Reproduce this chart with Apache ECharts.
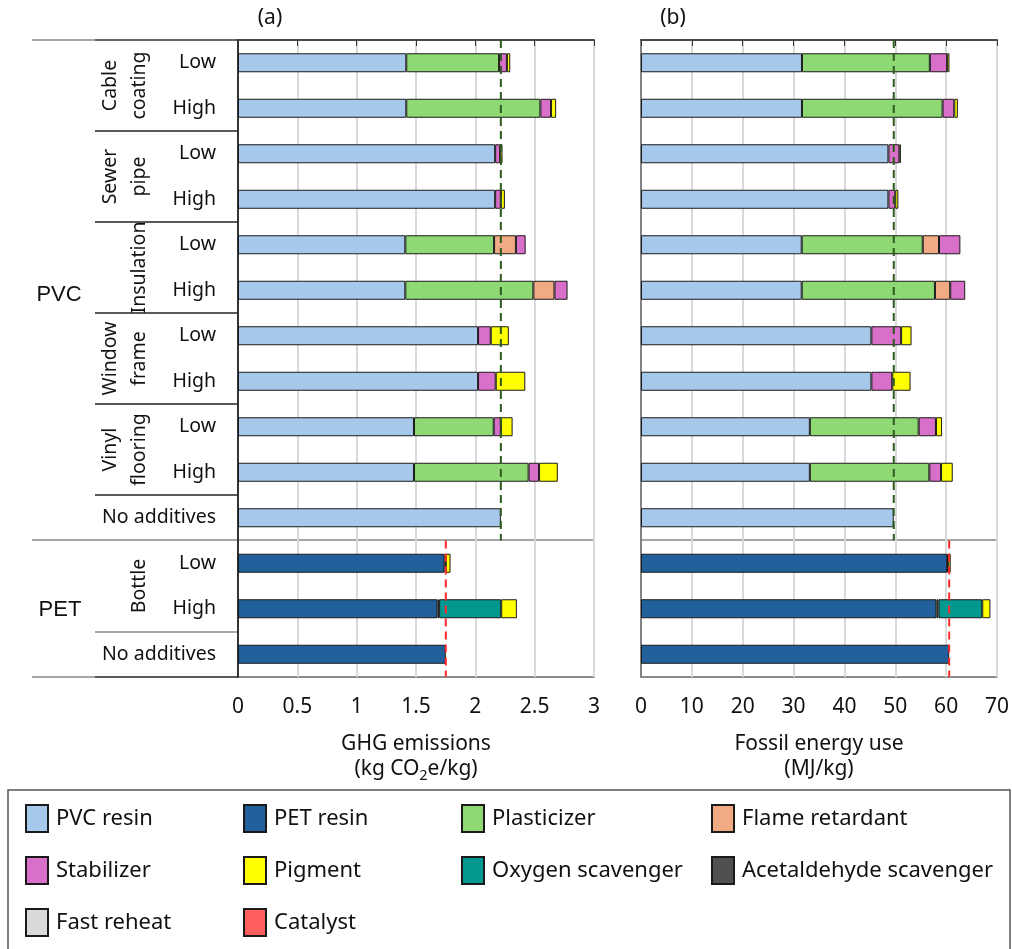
<!DOCTYPE html>
<html><head><meta charset="utf-8">
<script src="https://cdn.jsdelivr.net/npm/echarts@6/dist/echarts.min.js"></script>
<style>html,body{margin:0;padding:0;background:#fff}#c{width:1012px;height:949px}</style>
</head><body><div id="c"></div>
<script>
// ---- categories (top to bottom) ----
const rowLabels = ['Low','High','Low','High','Low','High','Low','High','Low','High','No additives','Low','High','No additives'];
const seriesNames = ['PVC resin','PET resin','Acetaldehyde scavenger','Plasticizer','Flame retardant','Stabilizer','Oxygen scavenger','Pigment','Fast reheat','Catalyst'];
const seriesColors = ['#A6C8EA','#22609B','#505050','#8FD975','#F2AA84','#D86FC8','#00988F','#FFFF00','#D9D9D9','#FF5F5F'];
const _ = null;
// ---- (a) GHG emissions, kg CO2e/kg ----
const ghgPVCresin   = [1.418,1.418,2.167,2.167,1.410,1.410,2.023,2.023,1.483,1.483,2.215,_,_,_];
const ghgPETresin   = [_,_,_,_,_,_,_,_,_,_,_,1.740,1.681,1.751];
const ghgAcetald    = [_,_,_,_,_,_,_,_,_,_,_,0.011,0.014,_];
const ghgPlasticizer= [0.782,1.130,_,_,0.748,1.079,_,_,0.672,0.966,_,_,_,_];
const ghgFlameRet   = [_,_,_,_,0.184,0.178,_,_,_,_,_,_,_,_];
const ghgStabilizer = [0.066,0.090,0.042,0.048,0.082,0.110,0.107,0.149,0.060,0.088,_,_,_,_];
const ghgOxygen     = [_,_,_,_,_,_,_,_,_,_,_,_,0.523,_];
const ghgPigment    = [0.028,0.043,0.020,0.034,_,_,0.152,0.249,0.099,0.158,_,0.040,0.132,_];
const ghgFastReheat = [_,_,_,_,_,_,_,_,_,_,_,_,_,_];
const ghgCatalyst   = [_,_,_,_,_,_,_,_,_,_,_,_,_,_];
const ghgRefPVC = 2.215, ghgRefPET = 1.751;
// ---- (b) Fossil energy use, MJ/kg ----
const fosPVCresin   = [31.65,31.65,48.65,48.65,31.6,31.6,45.3,45.3,33.2,33.2,49.7,_,_,_];
const fosPETresin   = [_,_,_,_,_,_,_,_,_,_,_,60.2,58.1,60.6];
const fosAcetald    = [_,_,_,_,_,_,_,_,_,_,_,0.2,0.4,_];
const fosPlasticizer= [25.15,27.65,_,_,23.8,26.2,_,_,21.4,23.5,_,_,_,_];
const fosFlameRet   = [_,_,_,_,3.2,3.0,_,_,_,_,_,_,_,_];
const fosStabilizer = [3.4,2.3,2.15,1.35,4.2,2.95,5.85,4.1,3.4,2.3,_,_,_,_];
const fosOxygen     = [_,_,_,_,_,_,_,_,_,_,_,_,8.6,_];
const fosPigment    = [0.45,0.7,0.3,0.6,_,_,2.05,3.6,1.2,2.3,_,0.5,1.6,_];
const fosFastReheat = [_,_,_,_,_,_,_,_,_,_,_,_,_,_];
const fosCatalyst   = [_,_,_,_,_,_,_,_,_,_,_,_,_,_];
const fosRefPVC = 49.7, fosRefPET = 60.6;
// ---- axis ticks ----
const ghgAxis = {min:0,max:3,interval:0.5};
const fosAxis = {min:0,max:70,interval:10};
const nPVC = 11, nRows = 14;

const ghgData = [ghgPVCresin,ghgPETresin,ghgAcetald,ghgPlasticizer,ghgFlameRet,ghgStabilizer,ghgOxygen,ghgPigment,ghgFastReheat,ghgCatalyst];
const fosData = [fosPVCresin,fosPETresin,fosAcetald,fosPlasticizer,fosFlameRet,fosStabilizer,fosOxygen,fosPigment,fosFastReheat,fosCatalyst];

const FONT = 'Noto Sans';
const chart = echarts.init(document.getElementById('c'), null, {renderer:'canvas'});

const series = [];
[ghgData, fosData].forEach((set, gi) => {
  set.forEach((arr, si) => {
    series.push({
      name: seriesNames[si], type:'bar', stack:'s'+gi,
      xAxisIndex: gi, yAxisIndex: gi, barWidth: 19,
      itemStyle:{color: seriesColors[si], borderColor:'#1a1a1a', borderWidth:1},
      emphasis:{disabled:true},
      data: arr.map(v => v == null ? '-' : v)
    });
  });
});
function refLine(gi, x, y0, y1, color){
  series.push({type:'line', xAxisIndex: gi, yAxisIndex: 2+gi, symbol:'none', silent:true, z:5,
    lineStyle:{color:color, width:2, type:[8,5]}, data:[[x,y0],[x,y1]]});
}
refLine(0, ghgRefPVC, 0, nPVC, '#2E5A1E');
refLine(0, ghgRefPET, nPVC, nRows, '#FF2A2A');
refLine(1, fosRefPVC, 0, nPVC, '#2E5A1E');
refLine(1, fosRefPET, nPVC, nRows, '#FF2A2A');

const grids = [
  {left:238, top:40, width:356, height:637, show:true, borderColor:'#666', borderWidth:1.5},
  {left:641, top:40, width:356, height:637, show:true, borderColor:'#666', borderWidth:1.5}
];
function xAx(gi, rng, name){
  return {type:'value', gridIndex:gi, min:rng.min, max:rng.max, interval:rng.interval,
    axisLine:{show:true, lineStyle:{color:'#333', width:1.5}},
    axisTick:{show:true, length:6, lineStyle:{color:'#333'}},
    axisLabel:{fontFamily:FONT, fontSize:21, color:'#111', margin:20},
    splitLine:{show:true, lineStyle:{color:'#d9d9d9', width:2}},
    name: name, nameLocation:'middle', nameGap:55,
    nameTextStyle:{fontFamily:FONT, fontSize:21, color:'#111', lineHeight:25, verticalAlign:'top',
      rich:{a:{fontFamily:FONT, fontSize:21, color:'#111', lineHeight:25},
            s:{fontFamily:FONT, fontSize:14, color:'#111', lineHeight:25, padding:[14,0,0,0]}}}
  };
}
const yAxes = [
  {type:'category', gridIndex:0, inverse:true, data: rowLabels,
    axisLine:{show:true, lineStyle:{color:'#333', width:2}}, axisTick:{show:false},
    axisLabel:{fontFamily:FONT, fontSize:19.5, color:'#111', margin:22}},
  {type:'category', gridIndex:1, inverse:true, data: rowLabels,
    axisLine:{show:true, lineStyle:{color:'#666', width:1.5}}, axisTick:{show:false},
    axisLabel:{show:false}},
  {type:'value', gridIndex:0, min:0, max:nRows, inverse:true, show:false},
  {type:'value', gridIndex:1, min:0, max:nRows, inverse:true, show:false}
];

const legendCols = [
  {left:20, names:['PVC resin','Stabilizer','Fast reheat']},
  {left:238, names:['PET resin','Pigment','Catalyst']},
  {left:456, names:['Plasticizer','Oxygen scavenger']},
  {left:706, names:['Flame retardant','Acetaldehyde scavenger']}
];
const legends = legendCols.map(c => ({
  left:c.left, top:799, orient:'vertical', itemGap:23, itemWidth:22, itemHeight:27,
  icon:'rect', selectedMode:false, data:c.names,
  textStyle:{fontFamily:FONT, fontSize:22, color:'#111', padding:[0,0,0,3]}
}));

// ---- decorative table lines and group labels ----
const graphics = [];
function hline(x1,x2,y,color){graphics.push({type:'line', shape:{x1:x1,y1:y,x2:x2,y2:y}, style:{stroke:color, lineWidth:1.5}, silent:true});}
hline(32,95,40,'#888'); hline(95,238,40,'#333');
[131,222,313,404,495].forEach(y=>hline(95,238,y,'#222'));
hline(32,238,540,'#888'); hline(238,594,540,'#888'); hline(641,997,540,'#888');
hline(95,238,632,'#888');
hline(32,95,677,'#888'); hline(95,238,677,'#222');
function rtext(txt,x,y){graphics.push({type:'text', x:x, y:y, rotation:Math.PI/2, silent:true,
  style:{text:txt, fontFamily:FONT, fontSize:19.5, fill:'#111', align:'center', verticalAlign:'middle', lineHeight:29}});}
rtext('Cable\ncoating',125,85.5);
rtext('Sewer\npipe',125,176.5);
rtext('Insulation',139,267.5);
rtext('Window\nframe',125,358.5);
rtext('Vinyl\nflooring',125,449.5);
rtext('Bottle',139,586);
function ptext(txt,x,y,size,fam){graphics.push({type:'text', x:x, y:y, silent:true,
  style:{text:txt, fontFamily:fam||FONT, fontSize:size, fill:'#111', align:'center', verticalAlign:'middle'}});}
ptext('PVC',59,295,22,'Liberation Sans');
ptext('PET',60,610,22,'Liberation Sans');
ptext('(a)',270,18,21);
ptext('(b)',673,18,21);
graphics.push({type:'rect', shape:{x:8,y:790,width:1002,height:170}, style:{fill:'none', stroke:'#555', lineWidth:1.5}, silent:true});

chart.setOption({
  animation:false,
  textStyle:{fontFamily:FONT},
  grid: grids,
  xAxis:[xAx(0, ghgAxis, '{a|GHG emissions}\n{a|(kg CO}{s|2}{a|e/kg)}'), xAx(1, fosAxis, '{a|Fossil energy use}\n{a|(MJ/kg)}')],
  yAxis: yAxes,
  legend: legends,
  series: series,
  graphic: graphics
});
</script></body></html>
